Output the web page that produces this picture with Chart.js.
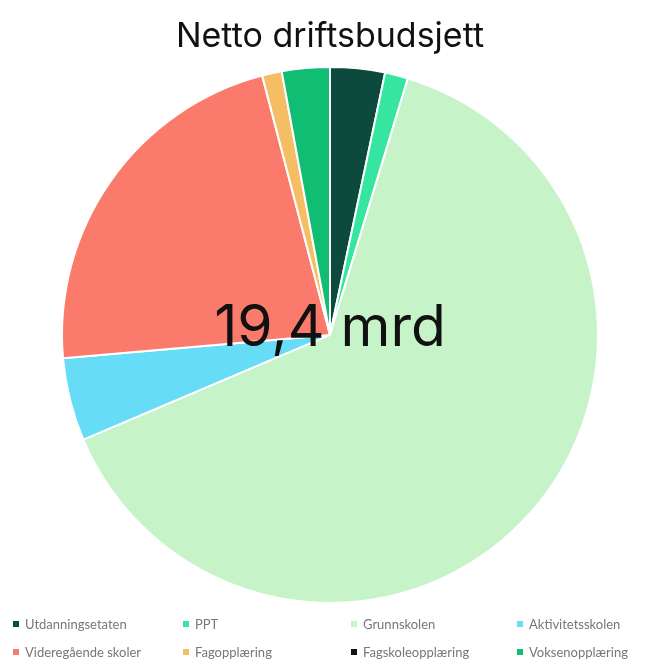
<!DOCTYPE html>
<html>
<head>
<meta charset="utf-8">
<script src="https://cdn.jsdelivr.net/npm/chart.js@4/dist/chart.umd.min.js"></script>
<style>
    html, body { margin: 0; padding: 0; background: #fff; }
    #wrap { position: relative; width: 663px; height: 661px; overflow: hidden; }
    #pie { position: absolute; left: 0; top: 0; }
    #legend {
        position: absolute; left: 13px; top: 615px;
        display: grid; grid-template-columns: 170px 168px 166px 140px;
        row-gap: 10px;
        font-family: Lato, "Open Sans", sans-serif; font-size: 13px; color: #777;
    }
    #legend span.item { white-space: nowrap; line-height: 18px; }
    #legend i { display: inline-block; width: 6px; height: 6px; margin-right: 6px; vertical-align: 2px; }
</style>
</head>
<body>
<div id="wrap">
    <canvas id="pie" width="663" height="661"></canvas>
    <div id="legend"></div>
</div>
<script>
const chartTitle = 'Netto driftsbudsjett';
const centerLabel = '19,4 mrd';

const categories = [
    'Utdanningsetaten', 'PPT', 'Grunnskolen', 'Aktivitetsskolen',
    'Videregående skoler', 'Fagopplæring', 'Fagskoleopplæring', 'Voksenopplæring'
];
// mrd kr (total 19,4)
const values = [0.64, 0.27, 12.4, 0.97, 4.33, 0.23, 0, 0.56];
const colors = ['#0b4a3d', '#36e6a0', '#c6f4c8', '#66dcf7', '#fa7b6b', '#f6be64', '#111111', '#10bd72'];

const centerText = {
    id: 'centerText',
    afterDraw(chart) {
        const { ctx, chartArea } = chart;
        const cx = (chartArea.left + chartArea.right) / 2;
        const cy = (chartArea.top + chartArea.bottom) / 2;
        ctx.save();
        ctx.font = '57px Inter, "Open Sans", sans-serif';
        ctx.fillStyle = '#111';
        ctx.textAlign = 'center';
        ctx.textBaseline = 'middle';
        ctx.fillText(centerLabel, cx, cy - 6);
        ctx.restore();
    }
};

const chart = new Chart(document.getElementById('pie'), {
    type: 'pie',
    data: {
        labels: categories,
        datasets: [{
            data: values,
            backgroundColor: colors,
            borderColor: '#ffffff',
            borderWidth: 2,
            radius: 268
        }]
    },
    options: {
        responsive: false,
        animation: false,
        layout: { padding: { top: 0, bottom: 58, left: 0, right: 3 } },
        plugins: {
            legend: { display: false },
            tooltip: { enabled: false },
            title: {
                display: true,
                text: chartTitle,
                color: '#111',
                font: { family: 'Inter, "Open Sans", sans-serif', size: 34, weight: 'normal' },
                padding: { top: 16, bottom: 10 }
            }
        }
    },
    plugins: [centerText]
});

// html legend in four columns, built from the chart's own labels and colours
const legendEl = document.getElementById('legend');
chart.data.labels.forEach((label, i) => {
    const item = document.createElement('span');
    item.className = 'item';
    item.innerHTML = `<i style="background:${colors[i]}"></i>${label}`;
    legendEl.appendChild(item);
});
</script>
</body>
</html>
